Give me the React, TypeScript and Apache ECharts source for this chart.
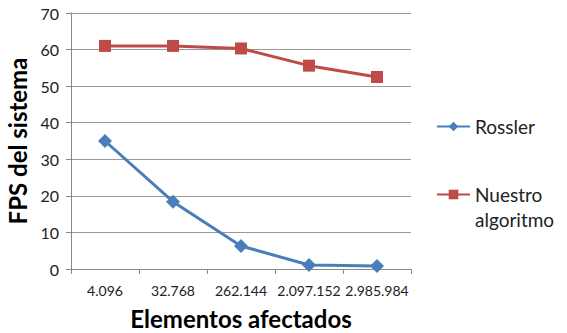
import React, { useEffect, useRef } from "react";
import * as echarts from "echarts";

const categories = ["4.096", "32.768", "262.144", "2.097.152", "2.985.984"];
const rossler = [35, 18.4, 6.3, 1.1, 0.8];
const nuestro = [61, 61, 60.3, 55.6, 52.5];
const seriesNames = ["Rossler", "Nuestro algoritmo"];

const FONT = "Lato, 'Open Sans', sans-serif";

export default function App() {
  const ref = useRef<HTMLDivElement>(null);
  useEffect(() => {
    if (!ref.current) return;
    const chart = echarts.init(ref.current, undefined, { renderer: "svg" });
    chart.setOption({
      animation: false,
      textStyle: { fontFamily: FONT },
      grid: { left: 71, right: 156, top: 13, bottom: 64, outerBoundsMode: "none", containLabel: false },
      legend: {
        orient: "vertical",
        left: 431,
        top: 109,
        itemGap: 18,
        itemWidth: 33,
        itemHeight: 12,
        data: seriesNames,
        // blank first line so the icon lines up with "Nuestro"
        formatter: (n: string) => (n.indexOf(" ") >= 0 ? "\n" + n.replace(" ", "\n") : n),
        textStyle: { fontFamily: FONT, fontSize: 19, color: "#222", lineHeight: 25 },
      },
      xAxis: {
        type: "category",
        data: categories,
        boundaryGap: true,
        name: "Elementos afectados",
        nameLocation: "middle",
        nameGap: 37,
        nameTextStyle: { fontFamily: FONT, fontSize: 24, fontWeight: "bold", color: "#000" },
        axisLine: { lineStyle: { color: "#888", width: 1 } },
        axisTick: { show: true, alignWithLabel: false, length: 5, lineStyle: { color: "#888" } },
        axisLabel: { color: "#222", fontSize: 14, margin: 14, interval: 0, fontFamily: FONT },
        splitLine: { show: false },
      },
      yAxis: {
        type: "value",
        min: 0,
        max: 70,
        interval: 10,
        name: "FPS del sistema",
        nameLocation: "middle",
        nameGap: 40,
        nameTextStyle: { fontFamily: FONT, fontSize: 24, fontWeight: "bold", color: "#000" },
        axisLine: { show: true, lineStyle: { color: "#888", width: 1 } },
        axisTick: { show: true, length: 5, lineStyle: { color: "#888" } },
        axisLabel: { color: "#222", fontSize: 16, margin: 12, fontFamily: FONT },
        splitLine: { show: true, lineStyle: { color: "#999", width: 1 } },
      },
      series: [
        {
          name: seriesNames[0],
          type: "line",
          data: rossler,
          symbol: "diamond",
          symbolSize: 14,
          lineStyle: { color: "#4A7EBB", width: 3 },
          itemStyle: { color: "#4A7EBB" },
        },
        {
          name: seriesNames[1],
          type: "line",
          data: nuestro,
          symbol: "rect",
          symbolSize: 12,
          lineStyle: { color: "#BE4B48", width: 3 },
          itemStyle: { color: "#BE4B48" },
        },
      ],
    });
    return () => chart.dispose();
  }, []);
  return <div ref={ref} style={{ width: 567, height: 333, position: "absolute", left: 0, top: 0 }} />;
}
